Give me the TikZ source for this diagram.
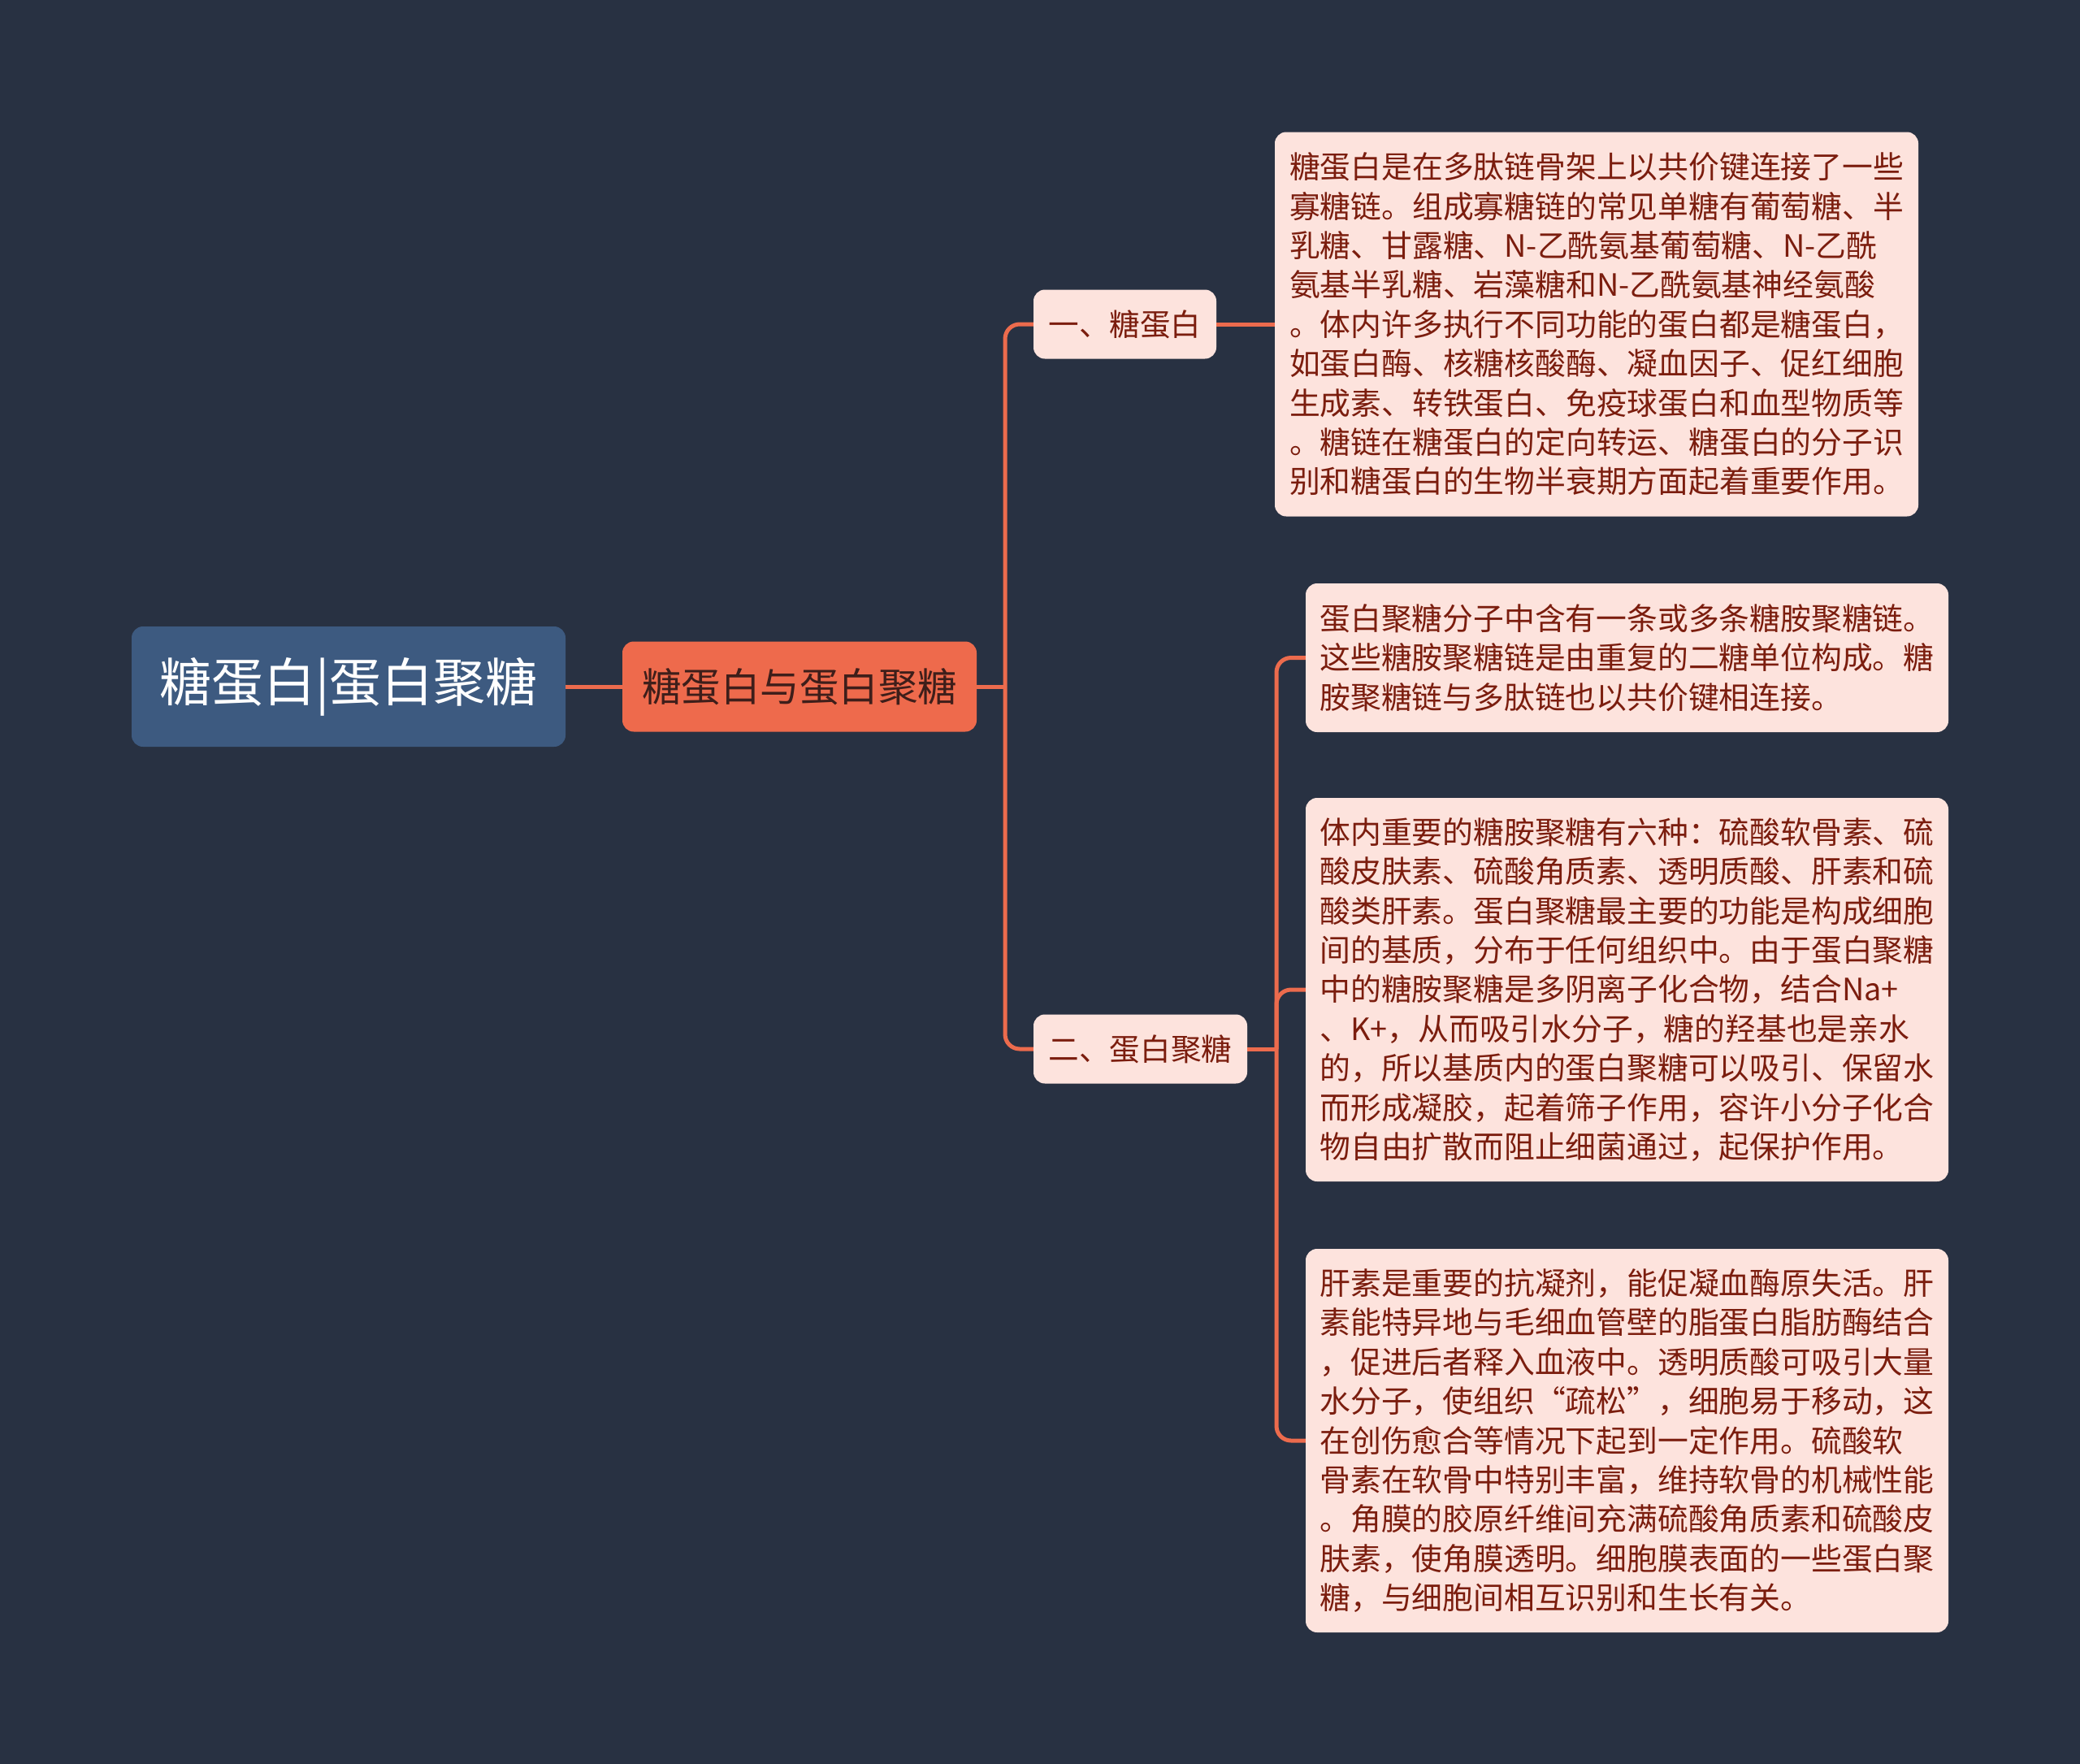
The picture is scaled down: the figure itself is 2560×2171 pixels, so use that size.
\documentclass[tikz,border=0pt]{standalone}
\usepackage{fontspec}
\newfontfamily\cjk{Noto Sans CJK SC}
\definecolor{bgc}{HTML}{283142}
\definecolor{rootc}{HTML}{3D5A80}
\definecolor{mainc}{HTML}{EE6A4C}
\definecolor{leafc}{HTML}{FDE3DD}
\definecolor{txtc}{HTML}{7B1D0E}
\definecolor{maintxt}{HTML}{3E1E1A}
\definecolor{linec}{HTML}{EC6B4D}
\tikzset{
  rootbox/.style={rectangle, rounded corners=14pt, fill=rootc, inner sep=0pt, text=white,
    font=\cjk\fontsize{64}{72}\selectfont},
  mainbox/.style={rectangle, rounded corners=14pt, fill=mainc, inner sep=0pt, text=maintxt,
    font=\cjk\fontsize{48.5}{56}\selectfont},
  branchbox/.style={rectangle, rounded corners=14pt, fill=leafc, inner sep=0pt, text=txtc,
    font=\cjk\fontsize{37.6}{44}\selectfont},
  leafbox/.style={rectangle, rounded corners=14pt, fill=leafc, inner sep=0pt, text=txtc,
    align=left, text width=756pt, font=\cjk\fontsize{37.8}{48.4}\selectfont},
  conn/.style={draw=linec, line width=5pt, rounded corners=18pt}
}
\begin{document}
\begin{tikzpicture}[x=1pt,y=-1pt]
\fill[bgc] (0,0) rectangle (2560,2171);
\useasboundingbox (0,0) rectangle (2560,2171);

\node[rootbox, minimum width=534pt, minimum height=148pt] (root) at (429,845) {糖蛋白|蛋白聚糖};
\node[mainbox, minimum width=436pt, minimum height=111pt] (main) at (984,845) {糖蛋白与蛋白聚糖};
\node[branchbox, minimum width=225pt, minimum height=85pt] (b1) at (1384.5,399) {一、糖蛋白};
\node[branchbox, minimum width=263pt, minimum height=85pt] (b2) at (1403.5,1291) {二、蛋白聚糖};

\node[leafbox, minimum width=792pt, minimum height=473pt] (l1) at (1965,399) {糖蛋白是在多肽链骨架上以共价键连接了一些\\寡糖链。组成寡糖链的常见单糖有葡萄糖、半\\乳糖、甘露糖、N-乙酰氨基葡萄糖、N-乙酰\\氨基半乳糖、岩藻糖和N-乙酰氨基神经氨酸\\。体内许多执行不同功能的蛋白都是糖蛋白，\\如蛋白酶、核糖核酸酶、凝血因子、促红细胞\\生成素、转铁蛋白、免疫球蛋白和血型物质等\\。糖链在糖蛋白的定向转运、糖蛋白的分子识\\别和糖蛋白的生物半衰期方面起着重要作用。};
\node[leafbox, minimum width=791pt, minimum height=183pt] (l2) at (2002.5,809.5) {蛋白聚糖分子中含有一条或多条糖胺聚糖链。\\这些糖胺聚糖链是由重复的二糖单位构成。糖\\胺聚糖链与多肽链也以共价键相连接。};
\node[leafbox, minimum width=791pt, minimum height=472pt] (l3) at (2002.5,1218) {体内重要的糖胺聚糖有六种：硫酸软骨素、硫\\酸皮肤素、硫酸角质素、透明质酸、肝素和硫\\酸类肝素。蛋白聚糖最主要的功能是构成细胞\\间的基质，分布于任何组织中。由于蛋白聚糖\\中的糖胺聚糖是多阴离子化合物，结合Na+\\、K+，从而吸引水分子，糖的羟基也是亲水\\的，所以基质内的蛋白聚糖可以吸引、保留水\\而形成凝胶，起着筛子作用，容许小分子化合\\物自由扩散而阻止细菌通过，起保护作用。};
\node[leafbox, minimum width=791pt, minimum height=472pt] (l4) at (2002.5,1773) {肝素是重要的抗凝剂，能促凝血酶原失活。肝\\素能特异地与毛细血管壁的脂蛋白脂肪酶结合\\，促进后者释入血液中。透明质酸可吸引大量\\水分子，使组织“疏松”，细胞易于移动，这\\在创伤愈合等情况下起到一定作用。硫酸软\\骨素在软骨中特别丰富，维持软骨的机械性能\\。角膜的胶原纤维间充满硫酸角质素和硫酸皮\\肤素，使角膜透明。细胞膜表面的一些蛋白聚\\糖，与细胞间相互识别和生长有关。};

\coordinate (j1) at (1237,845);
\coordinate (j2) at (1571,1291);

\draw[conn] (root.east) -- (main.west);
\draw[conn] (main.east) -- (j1);
\draw[conn] (j1) |- (b1.west);
\draw[conn] (j1) |- (b2.west);
\draw[conn] (b1.east) -- (l1.west);
\draw[conn] (b2.east) -- (j2);
\draw[conn] (j2) |- (l2.west);
\draw[conn] (j2) |- (l3.west);
\draw[conn] (j2) |- (l4.west);
\end{tikzpicture}
\end{document}
